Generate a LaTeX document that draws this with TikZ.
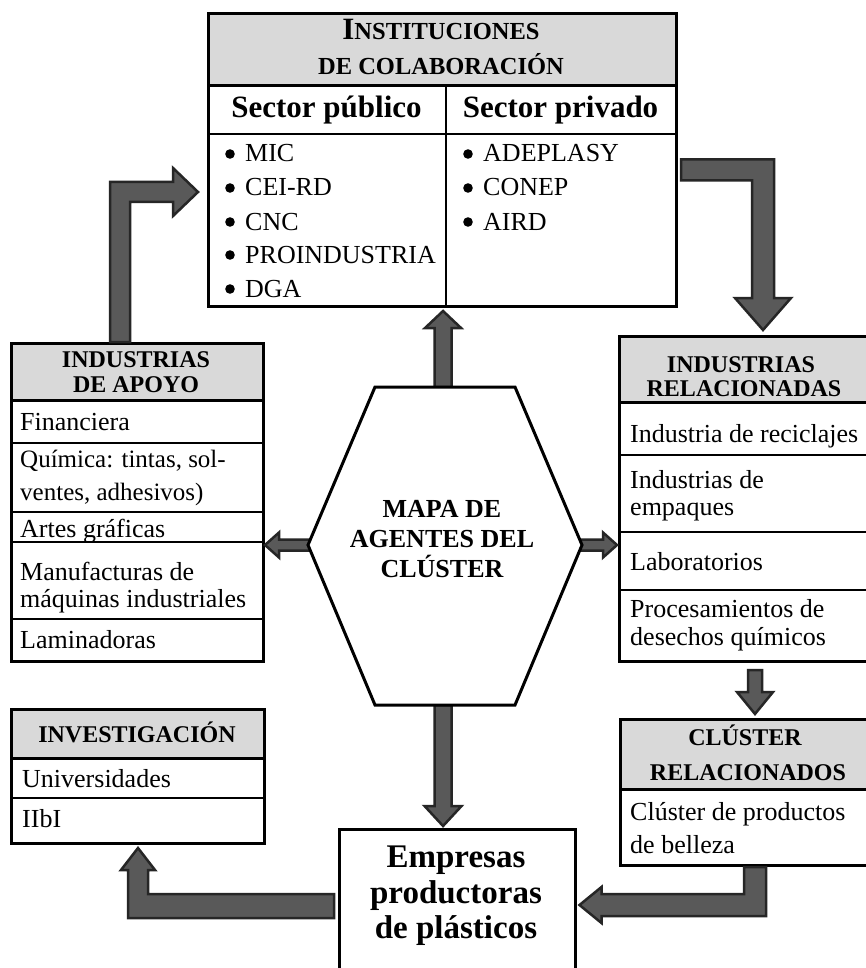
\documentclass[tikz,border=0pt]{standalone}
\usepackage{fontspec}
\setmainfont{Liberation Serif}
\usetikzlibrary{calc}
\definecolor{hdrgray}{HTML}{D9D9D9}
\definecolor{arrfill}{HTML}{595959}
\definecolor{arredge}{HTML}{262626}
\newcommand{\fsz}[1]{\fontsize{#1}{#1}\selectfont}
\begin{document}
\begin{tikzpicture}[x=1pt,y=-1pt,
  frame/.style={draw=black, line width=3pt, inner sep=0pt, anchor=north west},
  thinrule/.style={line width=2pt},
  thickrule/.style={line width=3pt},
  hdrtext/.style={font=\fsz{24}\bfseries, anchor=base, inner sep=0pt},
  bodytext/.style={font=\fsz{26}, anchor=base west, inner sep=0pt},
  titletext/.style={font=\fsz{31}\bfseries, anchor=base, inner sep=0pt},
  hextext/.style={font=\fsz{26}\bfseries, anchor=base, inner sep=0pt},
  emptext/.style={font=\fsz{33}\bfseries, anchor=base, inner sep=0pt},
  barrow/.style={draw=arredge, fill=arrfill, line width=2.5pt, line join=miter}]
\clip (0,0) rectangle (866,968);
\fill[white] (0,0) rectangle (866,968);

% ---------- Instituciones de colaboracion ----------
\fill[hdrgray] (207,12) rectangle (675,86);
\node[frame, minimum width=468, minimum height=293] (inst) at (207,12) {};
\draw[thickrule] (207,86) -- (675,86);
\draw[line width=2.5pt] (207,134) -- (675,134);
\draw[thinrule] (446,86) -- (446,305);
\node[font=\bfseries, anchor=base, inner sep=0pt] (instH1) at (441,40) {\fsz{31}I\fsz{24.5}NSTITUCIONES};
\node[hdrtext, font=\fsz{24.5}\bfseries] (instH2) at (441,75) {DE COLABORACIÓN};
\node[titletext] (pub) at (326.5,118) {Sector público};
\node[titletext] (priv) at (560.5,118) {Sector privado};
\node[bodytext] (p1) at (245,162) {MIC};
\node[bodytext] (p2) at (245,196) {CEI-RD};
\node[bodytext] (p3) at (245,230) {CNC};
\node[bodytext] (p4) at (245,263) {PROINDUSTRIA};
\node[bodytext] (p5) at (245,297) {DGA};
\node[bodytext] (q1) at (483,162) {ADEPLASY};
\node[bodytext] (q2) at (483,196) {CONEP};
\node[bodytext] (q3) at (483,230) {AIRD};
\foreach \n in {p1,p2,p3,p4,p5,q1,q2,q3}
  \fill ($(\n.base west)+(-15,-8)$) circle (4.8pt);

% ---------- Industrias de apoyo ----------
\fill[hdrgray] (10,342) rectangle (262,400);
\node[frame, minimum width=252, minimum height=318] (apoyo) at (10,342) {};
\draw[thickrule] (10,400) -- (262,400);
\draw[thinrule] (10,443) -- (262,443);
\draw[thinrule] (10,512) -- (262,512);
\draw[thinrule] (10,542) -- (262,542);
\draw[thinrule] (10,619) -- (262,619);
\node[hdrtext] (apH1) at (136,367) {INDUSTRIAS};
\node[hdrtext] (apH2) at (136,392) {DE APOYO};
\node[bodytext] (a1) at (20,430) {Financiera};
\node[bodytext, font=\fsz{25}] (a2) at (20,467) {Química: tintas, sol-};
\node[bodytext, font=\fsz{25}] (a3) at (20,500) {ventes, adhesivos)};
\node[bodytext] (a4) at (20,537) {Artes gráficas};
\node[bodytext] (a5) at (20,580) {Manufacturas de};
\node[bodytext] (a6) at (20,607) {máquinas industriales};
\node[bodytext] (a7) at (20,648) {Laminadoras};

% ---------- Industrias relacionadas ----------
\fill[hdrgray] (618,335) rectangle (880,402);
\node[frame, minimum width=262, minimum height=325] (rel) at (618,335) {};
\draw[thickrule] (618,402) -- (880,402);
\draw[thinrule] (618,455) -- (880,455);
\draw[thinrule] (618,532) -- (880,532);
\draw[thinrule] (618,590) -- (880,590);
\node[hdrtext] (reH1) at (741,372) {INDUSTRIAS};
\node[hdrtext] (reH2) at (744,396) {RELACIONADAS};
\node[bodytext] (r1) at (630,442) {Industria de reciclajes};
\node[bodytext] (r2) at (630,488) {Industrias de};
\node[bodytext] (r3) at (630,515) {empaques};
\node[bodytext] (r4) at (630,570) {Laboratorios};
\node[bodytext] (r5) at (630,617) {Procesamientos de};
\node[bodytext] (r6) at (630,645) {desechos químicos};

% ---------- Cluster relacionados ----------
\fill[hdrgray] (619,718) rectangle (880,789);
\node[frame, minimum width=261, minimum height=146] (clu) at (619,718) {};
\draw[thickrule] (619,789) -- (880,789);
\node[hdrtext] (cuH1) at (745,745) {CLÚSTER};
\node[hdrtext] (cuH2) at (748,780) {RELACIONADOS};
\node[bodytext] (c1) at (630,820) {Clúster de productos};
\node[bodytext] (c2) at (630,853) {de belleza};

% ---------- Investigacion ----------
\fill[hdrgray] (10,708) rectangle (263,758);
\node[frame, minimum width=253, minimum height=134] (inv) at (10,708) {};
\draw[thickrule] (10,758) -- (263,758);
\draw[thinrule] (10,798) -- (263,798);
\node[hdrtext] (ivH) at (137,742) {INVESTIGACIÓN};
\node[bodytext] (i1) at (22,787) {Universidades};
\node[bodytext] (i2) at (22,827) {IIbI};

% ---------- Empresas productoras ----------
\node[draw, line width=2.5pt, inner sep=0pt, anchor=north west, minimum width=236, minimum height=170] (emp) at (338,828) {};
\node[emptext] (e1) at (456,867) {Empresas};
\node[emptext] (e2) at (456,903) {productoras};
\node[emptext] (e3) at (456,938) {de plásticos};

% ---------- Hexagon corners ----------
\coordinate (hv1) at (375,387);
\coordinate (hv2) at (515,387);
\coordinate (hv3) at (582,545);
\coordinate (hv4) at (515,705);
\coordinate (hv5) at (375,705);
\coordinate (hv6) at (308,545);
\coordinate (hexN) at ($(hv1)!0.486!(hv2)$);
\coordinate (hexS) at ($(hv5)!0.486!(hv4)$);

% ---------- Arrow end points ----------
\coordinate (upT) at ($(inst.south)+(2,3)$);
\coordinate (dnT) at ($(emp.north west)+(105,-2)$);
\coordinate (lfS) at ($(hv6)+(2,0)$);
\coordinate (lfT) at ($(apoyo.east |- hv6)+(0,0)$);
\coordinate (rtS) at ($(hv3)+(-2,0)$);
\coordinate (rtT) at ($(rel.west |- hv3)+(-1,0)$);
\coordinate (e1S) at ($(apoyo.north west)+(110,0)$);
\coordinate (e1T) at ($(inst.north west)+(-9,180)$);
\coordinate (e2S) at ($(inst.north east)+(3,158)$);
\coordinate (e2T) at ($(rel.north west)+(145,-5)$);
\coordinate (e3S) at ($(rel.south west)+(137,7)$);
\coordinate (e3T) at ($(clu.north west)+(136,-4)$);
\coordinate (e4S) at ($(clu.south west)+(136,0)$);
\coordinate (e4T) at ($(emp.north east)+(3,77)$);
\coordinate (e5S) at ($(emp.north west)+(-4,78)$);
\coordinate (e5T) at ($(inv.south west)+(128,3)$);

% straight arrows from hexagon
\draw[barrow] let \p1=(hexN), \p2=(upT) in
  (\x1-8.5pt,\y1) -- (\x1-8.5pt,\y2-17pt) -- (\x1-18pt,\y2-17pt) -- (\x1,\y2)
  -- (\x1+18pt,\y2-17pt) -- (\x1+8.5pt,\y2-17pt) -- (\x1+8.5pt,\y1) -- cycle;
\draw[barrow] let \p1=(hexS), \p2=(dnT) in
  (\x1-8.5pt,\y1) -- (\x1-8.5pt,\y2+20pt) -- (\x1-18.5pt,\y2+20pt) -- (\x1,\y2)
  -- (\x1+18.5pt,\y2+20pt) -- (\x1+8.5pt,\y2+20pt) -- (\x1+8.5pt,\y1) -- cycle;
\draw[barrow] let \p1=(lfS), \p2=(lfT) in
  (\x1,\y1+5.5pt) -- (\x2+14pt,\y1+5.5pt) -- (\x2+14pt,\y1+12.5pt) -- (\x2,\y1)
  -- (\x2+14pt,\y1-12.5pt) -- (\x2+14pt,\y1-5.5pt) -- (\x1,\y1-5.5pt) -- cycle;
\draw[barrow] let \p1=(rtS), \p2=(rtT) in
  (\x1,\y1+5.5pt) -- (\x2-14pt,\y1+5.5pt) -- (\x2-14pt,\y1+12.5pt) -- (\x2,\y1)
  -- (\x2-14pt,\y1-12.5pt) -- (\x2-14pt,\y1-5.5pt) -- (\x1,\y1-5.5pt) -- cycle;

% elbow: apoyo -> instituciones
\draw[barrow] let \p1=(e1S), \p2=(e1T) in
  (\x1-10pt,\y1) -- (\x1-10pt,\y2+10pt) -- (\x2-25pt,\y2+10pt) -- (\x2-25pt,\y2+24pt)
  -- (\x2,\y2) -- (\x2-25pt,\y2-24pt) -- (\x2-25pt,\y2-10pt) -- (\x1+10pt,\y2-10pt)
  -- (\x1+10pt,\y1) -- cycle;
% elbow: instituciones -> relacionadas
\draw[barrow] let \p1=(e2S), \p2=(e2T) in
  (\x1,\y1+10.5pt) -- (\x2+11pt,\y1+10.5pt) -- (\x2+11pt,\y2+32pt) -- (\x2+28pt,\y2+32pt)
  -- (\x2,\y2) -- (\x2-28pt,\y2+32pt) -- (\x2-11pt,\y2+32pt) -- (\x2-11pt,\y1-10.5pt)
  -- (\x1,\y1-10.5pt) -- cycle;
% straight: relacionadas -> cluster
\draw[barrow] let \p1=(e3S), \p2=(e3T) in
  (\x1-7pt,\y1) -- (\x1-7pt,\y2+22pt) -- (\x1-18pt,\y2+22pt) -- (\x1,\y2)
  -- (\x1+18pt,\y2+22pt) -- (\x1+7pt,\y2+22pt) -- (\x1+7pt,\y1) -- cycle;
% elbow: cluster -> empresas
\draw[barrow] let \p1=(e4S), \p2=(e4T) in
  (\x1-11pt,\y1) -- (\x1-11pt,\y2+11pt) -- (\x2+22pt,\y2+11pt) -- (\x2+22pt,\y2+18pt)
  -- (\x2,\y2) -- (\x2+22pt,\y2-18pt) -- (\x2+22pt,\y2-11pt) -- (\x1+11pt,\y2-11pt)
  -- (\x1+11pt,\y1) -- cycle;
% elbow: empresas -> investigacion
\draw[barrow] let \p1=(e5S), \p2=(e5T) in
  (\x1,\y1+12pt) -- (\x2+10pt,\y1+12pt) -- (\x2+10pt,\y2-22pt) -- (\x2+17pt,\y2-22pt)
  -- (\x2,\y2) -- (\x2-17pt,\y2-22pt) -- (\x2-10pt,\y2-22pt) -- (\x2-10pt,\y1-12pt)
  -- (\x1,\y1-12pt) -- cycle;

% ---------- Hexagon ----------
\draw[line width=3pt, line join=miter, fill=white] (hv1) -- (hv2) -- (hv3) -- (hv4) -- (hv5) -- (hv6) -- cycle;
\node[hextext] (hex1) at (442,517) {MAPA DE};
\node[hextext] (hex2) at (442,547) {AGENTES DEL};
\node[hextext] (hex3) at (442,577) {CLÚSTER};
\end{tikzpicture}
\end{document}
